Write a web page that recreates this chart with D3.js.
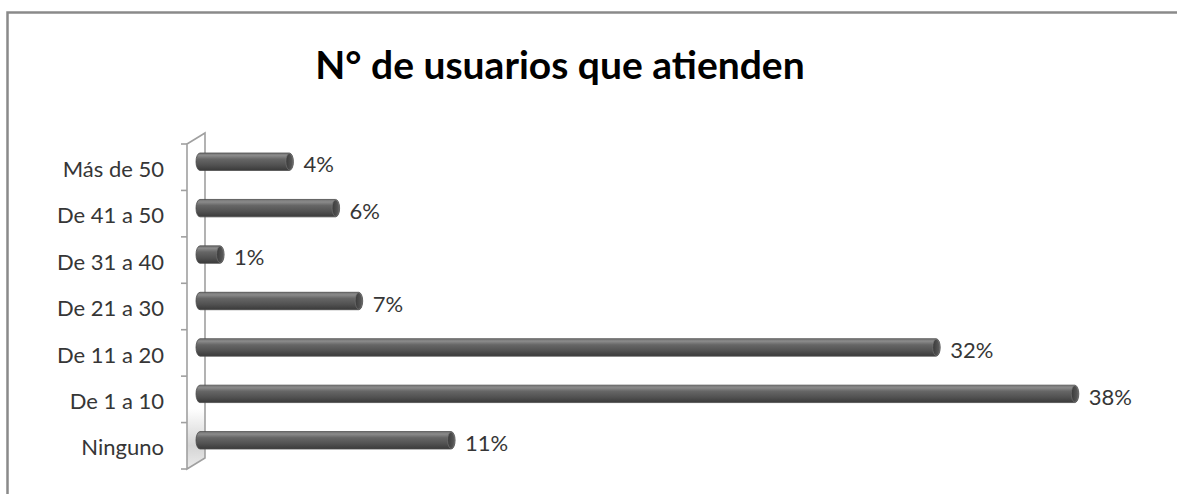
<!DOCTYPE html>
<html>
<head>
<meta charset="utf-8">
<script src="https://cdn.jsdelivr.net/npm/d3@7"></script>
<style>
  html, body { margin: 0; padding: 0; background: #fff; }
  svg { display: block; }
</style>
</head>
<body>
<svg id="chart" width="1177" height="494"></svg>
<script>
// Chart data
const title = "N° de usuarios que atienden";
const categories = ["Más de 50", "De 41 a 50", "De 31 a 40", "De 21 a 30", "De 11 a 20", "De 1 a 10", "Ninguno"];
const values = [0.04, 0.06, 0.01, 0.07, 0.32, 0.38, 0.11];
const valueLabels = ["4%", "6%", "1%", "7%", "32%", "38%", "11%"];

const svg = d3.select("#chart");
const W = 1177, H = 494;
const font = "Lato, 'Open Sans', sans-serif";

// Outer frame (left and top edges visible)
svg.append("path")
  .attr("d", `M7.5,${H} V12.5 H${W}`)
  .attr("fill", "none")
  .attr("stroke", "#8a8a8a")
  .attr("stroke-width", 2.5);

// Title
svg.append("text")
  .attr("x", 560).attr("y", 79)
  .attr("text-anchor", "middle")
  .attr("font-family", font)
  .attr("font-weight", "bold")
  .attr("font-size", 39)
  .attr("fill", "#000")
  .text(title);

// Scales
const depth = 11;                 // 3D depth offset of the side wall
const wallX = 187, plotTop = 144, plotBottom = 469;
const y = d3.scaleBand().domain(categories).range([plotTop, plotBottom]);
const yBar = d3.scaleBand().domain(categories)
  .range([plotTop - depth / 2, plotBottom - depth / 2])
  .paddingInner(0.625).paddingOuter(0.625 / 2);
const x = d3.scaleLinear().domain([0, 0.4]).range([201, 1125]);

// Side wall (3D)
const defs = svg.append("defs");
const wallGrad = defs.append("linearGradient").attr("id", "wallGrad")
  .attr("x1", 0).attr("y1", 0).attr("x2", 0).attr("y2", 1);
wallGrad.append("stop").attr("offset", "0%").attr("stop-color", "#ffffff");
wallGrad.append("stop").attr("offset", "82%").attr("stop-color", "#ffffff");
wallGrad.append("stop").attr("offset", "93%").attr("stop-color", "#d4d4d4");
wallGrad.append("stop").attr("offset", "100%").attr("stop-color", "#ececec");

svg.append("path")
  .attr("d", `M${wallX},${plotTop} L${wallX + 18},${plotTop - depth} L${wallX + 18},${plotBottom - depth} L${wallX},${plotBottom} Z`)
  .attr("fill", "url(#wallGrad)")
  .attr("stroke", "#a0a0a0")
  .attr("stroke-width", 1.6);

// Category axis with ticks on the band boundaries
const boundaries = categories.map(c => y(c)).concat([plotBottom]);
svg.append("g").selectAll("line").data(boundaries).join("line")
  .attr("x1", wallX - 6).attr("x2", wallX)
  .attr("y1", d => d).attr("y2", d => d)
  .attr("stroke", "#a0a0a0").attr("stroke-width", 1.6);

svg.append("g").selectAll("text").data(categories).join("text")
  .attr("x", 164)
  .attr("y", d => y(d) + y.bandwidth() / 2 + 2)
  .attr("dy", "0.35em")
  .attr("text-anchor", "end")
  .attr("font-family", font)
  .attr("font-size", 22)
  .attr("fill", "#363636")
  .text(d => d);

// Cylinder shading
const barGrad = defs.append("linearGradient").attr("id", "barGrad")
  .attr("x1", 0).attr("y1", 0).attr("x2", 0).attr("y2", 1);
[["0%", "#767676"], ["15%", "#8a8a8a"], ["35%", "#666666"], ["70%", "#515151"], ["100%", "#3a3a3a"]]
  .forEach(([o, c]) => barGrad.append("stop").attr("offset", o).attr("stop-color", c));
const capGrad = defs.append("linearGradient").attr("id", "capGrad")
  .attr("x1", 0).attr("y1", 0).attr("x2", 1).attr("y2", 0);
capGrad.append("stop").attr("offset", "0%").attr("stop-color", "#3a3a3a");
capGrad.append("stop").attr("offset", "100%").attr("stop-color", "#5c5c5c");

const bars = svg.append("g").selectAll("g").data(categories).join("g");
const bh = yBar.bandwidth();
const rx = 4;
const x0 = 196;

bars.append("path")
  .attr("d", (d, i) => {
    const top = yBar(d), bot = top + bh, xe = x(values[i]) - rx;
    return `M${x0 + rx},${top} L${xe},${top} A${rx},${bh / 2} 0 0 1 ${xe},${bot} L${x0 + rx},${bot} A${rx},${bh / 2} 0 0 1 ${x0 + rx},${top} Z`;
  })
  .attr("fill", "url(#barGrad)")
  .attr("stroke", "#4a4a4a")
  .attr("stroke-width", 0.8);

bars.append("ellipse")
  .attr("cx", (d, i) => x(values[i]) - rx)
  .attr("cy", d => yBar(d) + bh / 2)
  .attr("rx", rx - 0.5)
  .attr("ry", bh / 2 - 0.5)
  .attr("fill", "url(#capGrad)")
  .attr("stroke", "#777")
  .attr("stroke-width", 0.6);

// Value labels
bars.append("text")
  .attr("x", (d, i) => x(values[i]) + 10)
  .attr("y", d => yBar(d) + bh / 2 + 3)
  .attr("dy", "0.35em")
  .attr("font-family", font)
  .attr("font-size", 22)
  .attr("fill", "#363636")
  .text((d, i) => valueLabels[i]);
</script>
</body>
</html>
